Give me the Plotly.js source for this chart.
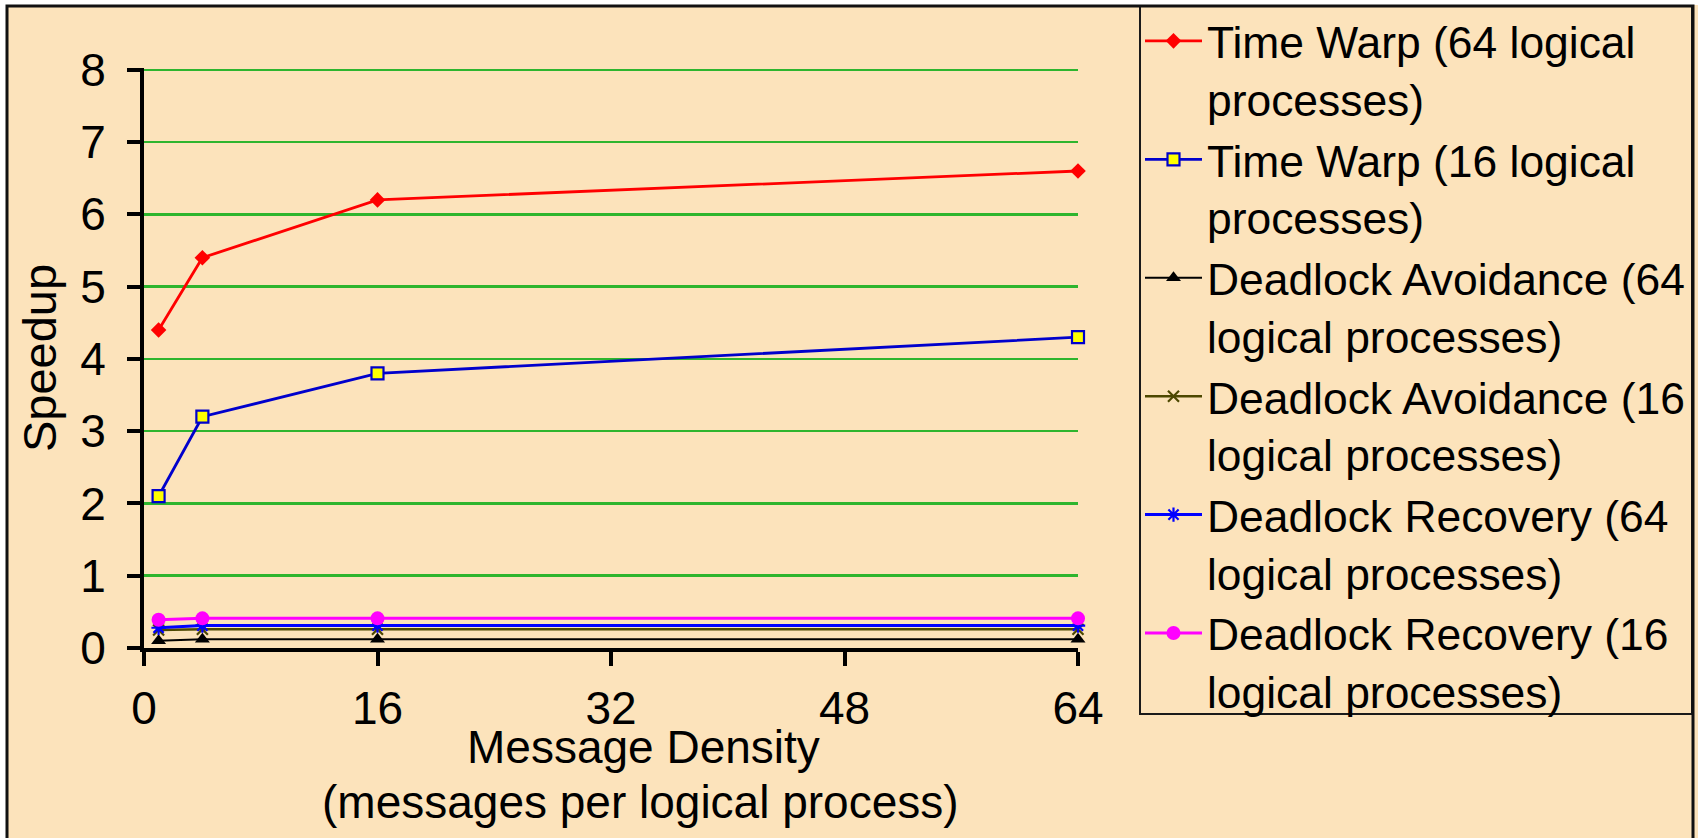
<!DOCTYPE html>
<html>
<head>
<meta charset="utf-8">
<script src="https://cdn.plot.ly/plotly-3.0.1.min.js"></script>
<style>
html,body{margin:0;padding:0;background:#ffffff;}
#chart{width:1698px;height:838px;}
</style>
</head>
<body>
<div id="chart"></div>
<script>
// ---- data ----
const messageDensity = [1, 4, 16, 64];
const xTickVals = [0, 16, 32, 48, 64];
const xTickText = ["0", "16", "32", "48", "64"];
const yTickVals = [0, 1, 2, 3, 4, 5, 6, 7, 8];

const seriesNames = [
  "Time Warp (64 logical<br>processes)",
  "Time Warp (16 logical<br>processes)",
  "Deadlock Avoidance (64<br>logical processes)",
  "Deadlock Avoidance (16<br>logical processes)",
  "Deadlock Recovery (64<br>logical processes)",
  "Deadlock Recovery (16<br>logical processes)"
];
const timeWarp64 = [4.4, 5.4, 6.2, 6.6];
const timeWarp16 = [2.1, 3.2, 3.8, 4.3];
const avoidance64 = [0.10, 0.12, 0.12, 0.12];
const avoidance16 = [0.25, 0.26, 0.26, 0.26];
const recovery64 = [0.28, 0.31, 0.31, 0.31];
const recovery16 = [0.39, 0.41, 0.41, 0.41];

const xTitleLines = ["Message Density", "(messages per logical process)"];
const yTitleText = "Speedup";

// ---- styles ----
const FONT = "Liberation Sans, Arial, Helvetica, sans-serif";
const BG = "#FCE3BB";

const traces = [
  {y: timeWarp64, name: seriesNames[0],
   line: {color: "#FF0000", width: 2.8},
   marker: {symbol: "diamond", size: 12, color: "#FF0000"}},
  {y: timeWarp16, name: seriesNames[1],
   line: {color: "#0000CC", width: 2.8},
   marker: {symbol: "square", size: 12, color: "#FFFF00", line: {color: "#0000CC", width: 2.2}}},
  {y: avoidance64, name: seriesNames[2],
   line: {color: "#000000", width: 2},
   marker: {symbol: "triangle-up", size: 13, color: "#000000"}},
  {y: avoidance16, name: seriesNames[3],
   line: {color: "#4D4800", width: 2.5},
   marker: {symbol: "x-thin-open", size: 11, color: "#4D4800", line: {color: "#4D4800", width: 2.2}}},
  {y: recovery64, name: seriesNames[4],
   line: {color: "#0000FF", width: 3},
   marker: {symbol: "asterisk-open", size: 12, color: "#0000FF", line: {color: "#0000FF", width: 2.2}}},
  {y: recovery16, name: seriesNames[5],
   line: {color: "#FF00FF", width: 3},
   marker: {symbol: "circle", size: 14, color: "#FF00FF"}}
].map(t => Object.assign({x: messageDensity, type: "scatter", mode: "lines+markers", cliponaxis: false}, t));

// plot area in px: left 144, right 1078, top 68, bottom 648
const W = 1698, H = 838, L = 144, R = 620, T = 68, B = 190;
const pw = W - L - R, ph = H - T - B;
const px2x = p => (p - L) / pw;
const px2y = p => (H - B - p) / ph;

const layout = {
  width: W, height: H,
  margin: {l: L, r: R, t: T, b: B, pad: 0, autoexpand: false},
  paper_bgcolor: BG,
  plot_bgcolor: "rgba(0,0,0,0)",
  font: {family: FONT, color: "#000000", size: 46},
  showlegend: true,
  xaxis: {
    range: [0, 64], tickvals: xTickVals, ticktext: xTickText,
    ticks: "outside", ticklen: 14, tickwidth: 4, tickcolor: "#000000",
    showline: true, linewidth: 4, linecolor: "#000000",
    showgrid: false, zeroline: false,
    tickfont: {family: FONT, size: 46, color: "#000000"},
    ticklabelstandoff: 3,
    automargin: false,
    fixedrange: true
  },
  yaxis: {
    range: [0, 8.025], tickvals: yTickVals,
    ticks: "outside", ticklen: 13, tickwidth: 4, tickcolor: "#000000",
    showline: true, linewidth: 4, linecolor: "#000000",
    showgrid: true, gridcolor: "#2EB52E", gridwidth: 2.5,
    zeroline: false,
    tickfont: {family: FONT, size: 46, color: "#000000"},
    ticklabelstandoff: 12,
    title: {text: yTitleText, font: {family: FONT, size: 47, color: "#000000"}, standoff: 10},
    automargin: false,
    fixedrange: true
  },
  legend: {
    x: px2x(1140), y: px2y(5.5), xanchor: "left", yanchor: "top",
    bgcolor: "rgba(0,0,0,0)", borderwidth: 0,
    font: {family: FONT, size: 44.4, color: "#000000"},
    valign: "top", itemwidth: 57, tracegroupgap: 0, maxheight: 830
  },
  annotations: [
    {text: xTitleLines[0], xref: "paper", yref: "paper",
     x: px2x(643), y: px2y(747), xanchor: "center", yanchor: "middle",
     showarrow: false, font: {family: FONT, size: 46, color: "#000000"}},
    {text: xTitleLines[1], xref: "paper", yref: "paper",
     x: px2x(640), y: px2y(802), xanchor: "center", yanchor: "middle",
     showarrow: false, font: {family: FONT, size: 46, color: "#000000"}}
  ],
  shapes: [
    {type: "rect", xref: "paper", yref: "paper", layer: "below",
     x0: px2x(-10), x1: px2x(7), y0: px2y(900), y1: px2y(-10),
     fillcolor: "#FFFFFF", line: {width: 0}},
    {type: "rect", xref: "paper", yref: "paper", layer: "below",
     x0: px2x(-10), x1: px2x(1710), y0: px2y(5), y1: px2y(-10),
     fillcolor: "#FFFFFF", line: {width: 0}},
    {type: "rect", xref: "paper", yref: "paper", layer: "above",
     x0: px2x(1140), x1: px2x(1692), y0: px2y(714), y1: px2y(6),
     line: {color: "#1a1a1a", width: 2}},
    {type: "rect", xref: "paper", yref: "paper", layer: "above",
     x0: px2x(7), x1: px2x(1693), y0: px2y(860), y1: px2y(6),
     line: {color: "#111111", width: 3}}
  ]
};

Plotly.newPlot("chart", traces, layout, {displayModeBar: false, staticPlot: true});
</script>
</body>
</html>
